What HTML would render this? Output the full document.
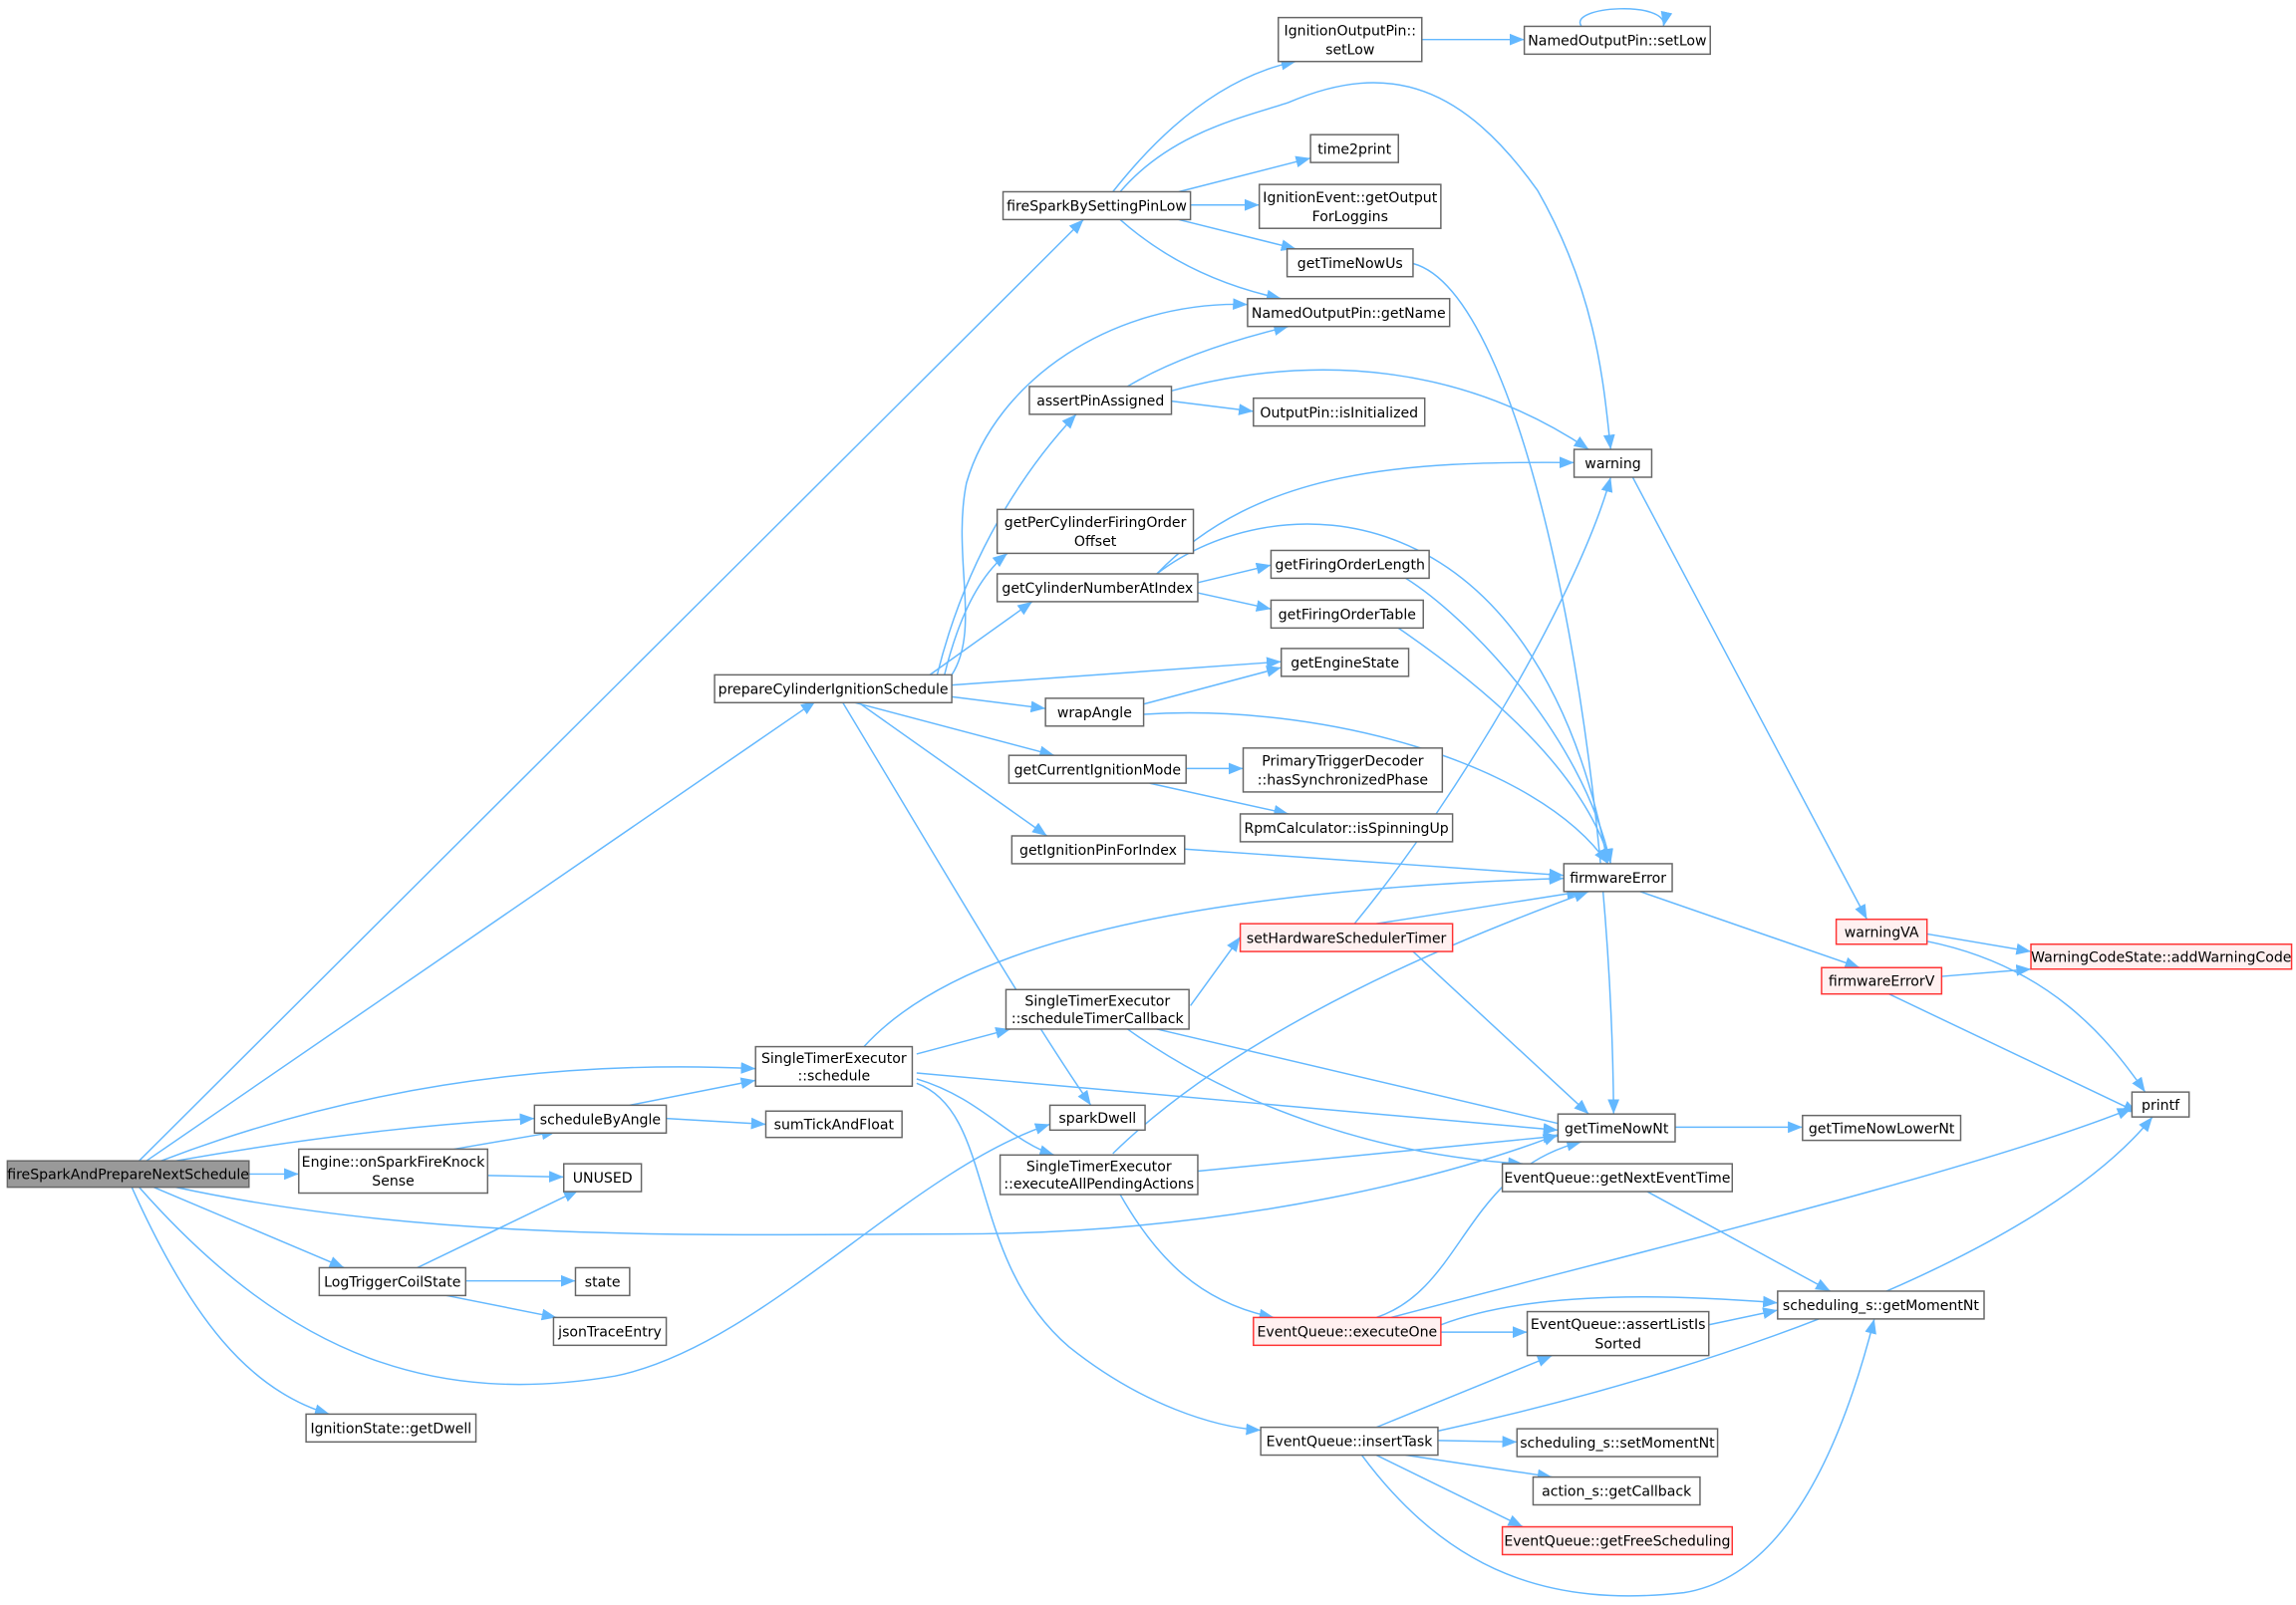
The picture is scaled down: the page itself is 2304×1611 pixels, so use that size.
<!DOCTYPE html>
<html><head><meta charset="utf-8"><style>
html,body{margin:0;padding:0;background:#fff;}
svg{display:block}
text{font-family:"DejaVu Sans","Liberation Sans",sans-serif;font-size:9.6px;fill:#000;text-anchor:middle}
.n{fill:#fff;stroke:#666;stroke-width:1}
.r{fill:#fff0f0;stroke:#f33;stroke-width:1}
.g{fill:#999;stroke:#666;stroke-width:1}
.e{fill:none;stroke:#63b8ff;stroke-width:1;marker-end:url(#a)}
</style></head><body>
<svg width="2304" height="1611" viewBox="0 0 1568 1096.4" xmlns="http://www.w3.org/2000/svg">
<defs><marker id="a" markerUnits="userSpaceOnUse" markerWidth="12" markerHeight="10" refX="10" refY="4" orient="auto"><path d="M0,0 L10,4 L0,8 z" fill="#63b8ff"/></marker></defs>
<g>
<path class="e" d="M95,793 L740,150"/>
<path class="e" d="M100,793 L557,479"/>
<path class="e" d="M110,793 Q300,720 516,730"/>
<path class="e" d="M120,793 Q250,770 365,764"/>
<path class="e" d="M170,802 L204,802"/>
<path class="e" d="M120,811 C300,850 500,843 650,843 C850,843 1000,800 1064,775"/>
<path class="e" d="M105,811 L235,866"/>
<path class="e" d="M95,811 C200,930 300,960 420,940 C520,920 620,800 717,768"/>
<path class="e" d="M90,811 C130,900 170,950 225,966"/>
<path class="e" d="M760,131 Q820,55 885,42"/>
<path class="e" d="M765,131 C800,90 850,80 880,70 C950,40 1000,60 1050,130 C1090,200 1095,260 1100,307"/>
<path class="e" d="M805,131 L895,108"/>
<path class="e" d="M813,140 L860,140"/>
<path class="e" d="M805,150 L885,170"/>
<path class="e" d="M765,150 Q810,190 875,204"/>
<path class="e" d="M971,27 L1041,27"/>
<path class="e" d="M1080,18 C1070,4 1140,0 1136,18"/>
<path class="e" d="M965,180 C1040,200 1100,500 1102,761"/>
<path class="e" d="M770,264 Q810,240 880,223"/>
<path class="e" d="M800,267 C900,240 1000,250 1085,307"/>
<path class="e" d="M800,274 L856,281"/>
<path class="e" d="M650,461 C670,430 650,380 660,330 C680,260 760,205 852,208"/>
<path class="e" d="M640,461 C660,380 700,320 735,283"/>
<path class="e" d="M645,461 Q660,400 688,378"/>
<path class="e" d="M635,461 L705,411"/>
<path class="e" d="M650,468 L875,452"/>
<path class="e" d="M650,476 L714,484"/>
<path class="e" d="M580,479 L720,516"/>
<path class="e" d="M585,479 L715,571"/>
<path class="e" d="M575,479 C630,570 700,690 745,755"/>
<path class="e" d="M790,392 C860,320 960,315 1075,316"/>
<path class="e" d="M790,392 C870,330 1050,330 1098,590"/>
<path class="e" d="M818,398 L868,386"/>
<path class="e" d="M818,405 L868,416"/>
<path class="e" d="M960,395 C1000,420 1080,500 1100,590"/>
<path class="e" d="M955,429 C1000,460 1080,520 1100,590"/>
<path class="e" d="M781,481 L875,456"/>
<path class="e" d="M781,488 C900,480 1050,520 1098,590"/>
<path class="e" d="M810,525 L849,525"/>
<path class="e" d="M785,535 L880,556"/>
<path class="e" d="M809,580 L1068,598"/>
<path class="e" d="M1115,326 L1275,628"/>
<path class="e" d="M1120,609 L1270,661"/>
<path class="e" d="M1316,638 L1387,650"/>
<path class="e" d="M1316,643 C1400,660 1440,710 1465,746"/>
<path class="e" d="M1326,667 L1387,662"/>
<path class="e" d="M1290,679 L1460,760"/>
<path class="e" d="M925,631 C1000,540 1080,400 1100,326"/>
<path class="e" d="M940,631 L1080,609"/>
<path class="e" d="M965,650 L1085,761"/>
<path class="e" d="M813,687 L847,640"/>
<path class="e" d="M790,703 L1075,770"/>
<path class="e" d="M770,703 C850,760 950,790 1040,795"/>
<path class="e" d="M590,715 C640,660 760,610 1068,600"/>
<path class="e" d="M626,720 L690,703"/>
<path class="e" d="M626,733 L1064,772"/>
<path class="e" d="M626,737 C670,750 690,780 720,789"/>
<path class="e" d="M626,740 C680,760 660,860 730,920 C780,960 830,975 861,977"/>
<path class="e" d="M760,788 C850,700 1000,640 1085,609"/>
<path class="e" d="M818,800 L1064,776"/>
<path class="e" d="M765,816 C790,860 820,890 870,900"/>
<path class="e" d="M430,755 L516,738"/>
<path class="e" d="M455,764 L523,768"/>
<path class="e" d="M310,785 L380,773"/>
<path class="e" d="M333,803 L385,804"/>
<path class="e" d="M285,866 L395,813"/>
<path class="e" d="M318,875 L393,875"/>
<path class="e" d="M300,884 L380,900"/>
<path class="e" d="M1144,770 L1231,770"/>
<path class="e" d="M1125,814 L1250,882"/>
<path class="e" d="M940,900 C1000,880 1000,800 1080,780"/>
<path class="e" d="M950,900 C1100,860 1350,800 1456,757"/>
<path class="e" d="M984,905 C1050,880 1150,885 1214,890"/>
<path class="e" d="M984,910 L1043,910"/>
<path class="e" d="M1167,905 L1214,895"/>
<path class="e" d="M940,975 L1060,926"/>
<path class="e" d="M980,978 C1200,930 1400,850 1470,763"/>
<path class="e" d="M982,984 L1036,985"/>
<path class="e" d="M960,994 L1060,1009"/>
<path class="e" d="M940,994 L1040,1043"/>
<path class="e" d="M930,994 C990,1075 1060,1098 1150,1088 C1230,1075 1265,960 1280,901"/>
</g>
<g>
<rect class="g" x="5" y="793" width="165" height="18"/><text x="87.5" y="805.5">fireSparkAndPrepareNextSchedule</text>
<rect class="n" x="685" y="131" width="128" height="19"/><text x="749" y="144">fireSparkBySettingPinLow</text>
<rect class="n" x="873" y="12" width="98" height="30"/><text x="922" y="24">IgnitionOutputPin::</text><text x="922" y="37">setLow</text>
<rect class="n" x="1041" y="18" width="127" height="19"/><text x="1104.5" y="31">NamedOutputPin::setLow</text>
<rect class="n" x="895" y="92" width="60" height="19"/><text x="925" y="105">time2print</text>
<rect class="n" x="860" y="126" width="124" height="30"/><text x="922" y="138">IgnitionEvent::getOutput</text><text x="922" y="151">ForLoggins</text>
<rect class="n" x="879" y="170" width="86" height="19"/><text x="922" y="183">getTimeNowUs</text>
<rect class="n" x="852" y="204" width="138" height="19"/><text x="921" y="217">NamedOutputPin::getName</text>
<rect class="n" x="703" y="264" width="97" height="19"/><text x="751.5" y="277">assertPinAssigned</text>
<rect class="n" x="856" y="272" width="117" height="19"/><text x="914.5" y="285">OutputPin::isInitialized</text>
<rect class="n" x="1075" y="307" width="53" height="19"/><text x="1101.5" y="320">warning</text>
<rect class="n" x="681" y="348" width="134" height="30"/><text x="748" y="360">getPerCylinderFiringOrder</text><text x="748" y="373">Offset</text>
<rect class="n" x="681" y="392" width="137" height="19"/><text x="749.5" y="405">getCylinderNumberAtIndex</text>
<rect class="n" x="868" y="376" width="108" height="19"/><text x="922" y="389">getFiringOrderLength</text>
<rect class="n" x="868" y="410" width="104" height="19"/><text x="920" y="423">getFiringOrderTable</text>
<rect class="n" x="875" y="443" width="87" height="19"/><text x="918.5" y="456">getEngineState</text>
<rect class="n" x="488" y="461" width="162" height="19"/><text x="569" y="474">prepareCylinderIgnitionSchedule</text>
<rect class="n" x="714" y="477" width="67" height="19"/><text x="747.5" y="490">wrapAngle</text>
<rect class="n" x="689" y="516" width="121" height="19"/><text x="749.5" y="529">getCurrentIgnitionMode</text>
<rect class="n" x="849" y="511" width="136" height="30"/><text x="917" y="523">PrimaryTriggerDecoder</text><text x="917" y="536">::hasSynchronizedPhase</text>
<rect class="n" x="847" y="556" width="145" height="19"/><text x="919.5" y="569">RpmCalculator::isSpinningUp</text>
<rect class="n" x="691" y="571" width="118" height="19"/><text x="750" y="584">getIgnitionPinForIndex</text>
<rect class="n" x="1068" y="590" width="74" height="19"/><text x="1105" y="603">firmwareError</text>
<rect class="r" x="1254" y="628" width="62" height="17"/><text x="1285" y="640">warningVA</text>
<rect class="r" x="1387" y="645" width="178" height="17"/><text x="1476" y="657">WarningCodeState::addWarningCode</text>
<rect class="r" x="1244" y="661" width="82" height="18"/><text x="1285" y="673.5">firmwareErrorV</text>
<rect class="r" x="847" y="631" width="145" height="19"/><text x="919.5" y="644">setHardwareSchedulerTimer</text>
<rect class="n" x="687" y="676" width="125" height="27"/><text x="749.5" y="687">SingleTimerExecutor</text><text x="749.5" y="699">::scheduleTimerCallback</text>
<rect class="n" x="516" y="715" width="107" height="27"/><text x="569.5" y="726">SingleTimerExecutor</text><text x="569.5" y="738">::schedule</text>
<rect class="n" x="717" y="755" width="65" height="17"/><text x="749.5" y="767">sparkDwell</text>
<rect class="n" x="683" y="789" width="135" height="27"/><text x="750.5" y="800">SingleTimerExecutor</text><text x="750.5" y="812">::executeAllPendingActions</text>
<rect class="n" x="1064" y="761" width="80" height="19"/><text x="1104" y="774">getTimeNowNt</text>
<rect class="n" x="1231" y="762" width="108" height="17"/><text x="1285" y="774">getTimeNowLowerNt</text>
<rect class="n" x="1456" y="746" width="39" height="17"/><text x="1475.5" y="758">printf</text>
<rect class="n" x="1026" y="795" width="157" height="19"/><text x="1104.5" y="808">EventQueue::getNextEventTime</text>
<rect class="n" x="1214" y="882" width="141" height="19"/><text x="1284.5" y="895">scheduling_s::getMomentNt</text>
<rect class="r" x="856" y="900" width="128" height="19"/><text x="920" y="913">EventQueue::executeOne</text>
<rect class="n" x="1043" y="896" width="124" height="30"/><text x="1105" y="908">EventQueue::assertListIs</text><text x="1105" y="921">Sorted</text>
<rect class="n" x="861" y="975" width="121" height="19"/><text x="921.5" y="988">EventQueue::insertTask</text>
<rect class="n" x="1036" y="976" width="137" height="19"/><text x="1104.5" y="989">scheduling_s::setMomentNt</text>
<rect class="n" x="1047" y="1009" width="114" height="19"/><text x="1104" y="1022">action_s::getCallback</text>
<rect class="r" x="1026" y="1043" width="157" height="19"/><text x="1104.5" y="1056">EventQueue::getFreeScheduling</text>
<rect class="n" x="365" y="755" width="90" height="19"/><text x="410" y="768">scheduleByAngle</text>
<rect class="n" x="523" y="759" width="93" height="18"/><text x="569.5" y="771.5">sumTickAndFloat</text>
<rect class="n" x="204" y="785" width="129" height="30"/><text x="268.5" y="797">Engine::onSparkFireKnock</text><text x="268.5" y="810">Sense</text>
<rect class="n" x="385" y="795" width="53" height="19"/><text x="411.5" y="808">UNUSED</text>
<rect class="n" x="218" y="866" width="100" height="19"/><text x="268" y="879">LogTriggerCoilState</text>
<rect class="n" x="393" y="866" width="37" height="19"/><text x="411.5" y="879">state</text>
<rect class="n" x="378" y="900" width="77" height="19"/><text x="416.5" y="913">jsonTraceEntry</text>
<rect class="n" x="209" y="966" width="116" height="19"/><text x="267" y="979">IgnitionState::getDwell</text>
</g>
</svg>
</body></html>
